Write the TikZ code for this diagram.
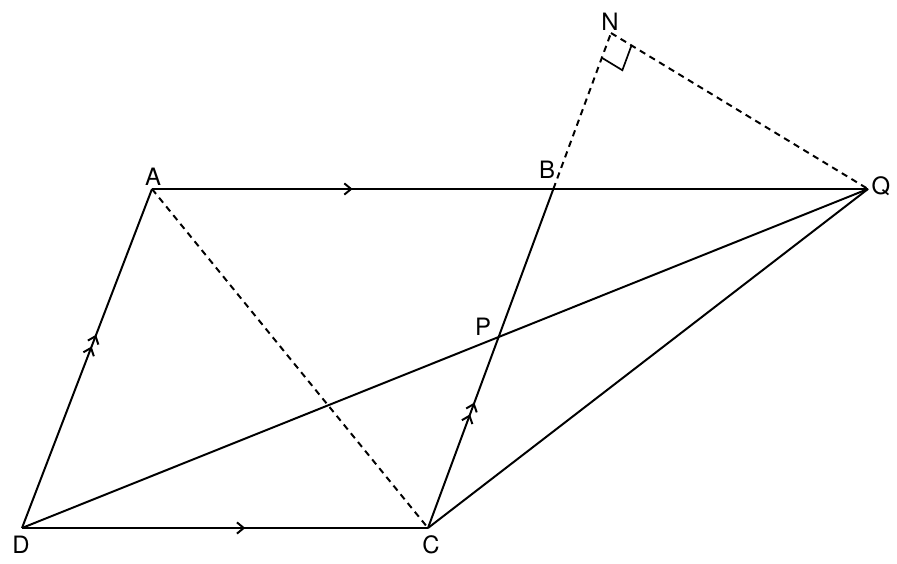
\documentclass[tikz,border=0pt]{standalone}
\usepackage{fontspec}
\setmainfont{TeX Gyre Heros}
\usetikzlibrary{calc,arrows.meta,decorations.markings}
\tikzset{
  dashline/.style={dash pattern=on 4.5pt off 3.5pt},
  onebarb/.style={postaction={decorate},decoration={markings,
    mark=at position #1 with {\arrow{Straight Barb[length=1.7mm,width=2.8mm]}}}},
  twobarb/.style={postaction={decorate},decoration={markings,
    mark=at position #1 with {\arrow{Straight Barb[length=1.7mm,width=2.8mm,sep=0.8mm] Straight Barb[length=1.7mm,width=2.8mm]}}}},
  ptlabel/.style={font=\fontsize{17}{20}\selectfont, inner sep=0pt}
}
\begin{document}
\begin{tikzpicture}[x=0.025cm, y=-0.025cm, line width=1.4pt]
\useasboundingbox (0,0) rectangle (897,564);
\coordinate (D) at (22,528);
\coordinate (C) at (428,528);
\coordinate (A) at (152,189);
\coordinate (Q) at (868,189);
\coordinate (N) at (611,33);
\coordinate (B) at (intersection of A--Q and C--N);
\coordinate (P) at (intersection of D--Q and C--N);
% right angle at N
\coordinate (n1) at ($(N)!0.66cm!(B)$);
\coordinate (n2) at ($(N)!0.6cm!(Q)$);
\coordinate (n3) at ($(n1)+(n2)-(N)$);

\draw [onebarb=0.5] (A) -- (B);
\draw (B) -- (Q);
\draw [onebarb=0.55] (D) -- (C);
\draw [twobarb=0.57] (D) -- (A);
\draw [twobarb=0.37] (C) -- (B);
\draw (D) -- (Q);
\draw (C) -- (Q);
\draw [dashline] (A) -- (C);
\draw [dashline] (B) -- (N);
\draw [dashline] (N) -- (Q);
\draw [line width=1.2pt] (n1) -- (n3) -- (n2);

\node [ptlabel] (labA) at (153,177) {A};
\node [ptlabel] (labB) at (547,170) {B};
\node [ptlabel] (labN) at (610,22) {N};
\node [ptlabel] (labQ) at (881,186) {Q};
\node [ptlabel] (labP) at (483,327) {P};
\node [ptlabel] (labD) at (21,545) {D};
\node [ptlabel] (labC) at (431,545) {C};
\end{tikzpicture}
\end{document}
